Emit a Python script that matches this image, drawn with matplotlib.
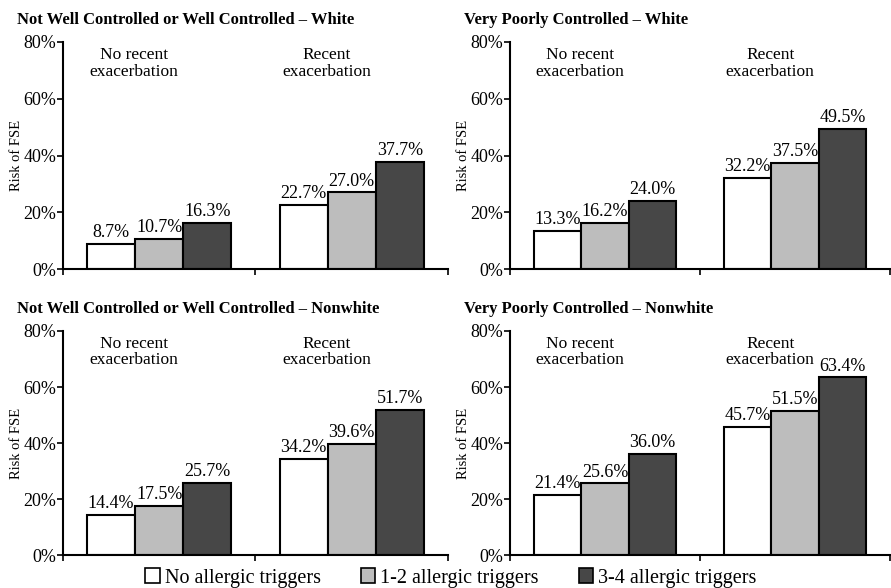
import matplotlib
matplotlib.use("Agg")
import matplotlib.pyplot as plt
from matplotlib.patches import Patch
import numpy as np

plt.rcParams['font.family'] = ['Liberation Serif', 'DejaVu Serif']

titles = ["Not Well Controlled or Well Controlled \u2013 White",
          "Very Poorly Controlled \u2013 White",
          "Not Well Controlled or Well Controlled \u2013 Nonwhite",
          "Very Poorly Controlled \u2013 Nonwhite"]
groups = ["No recent\nexacerbation", "Recent\nexacerbation"]
series = ["No allergic triggers", "1-2 allergic triggers", "3-4 allergic triggers"]
# values[panel][group][series]
values = [
    [[8.7, 10.7, 16.3], [22.7, 27.0, 37.7]],
    [[13.3, 16.2, 24.0], [32.2, 37.5, 49.5]],
    [[14.4, 17.5, 25.7], [34.2, 39.6, 51.7]],
    [[21.4, 25.6, 36.0], [45.7, 51.5, 63.4]],
]
yticks = [0, 20, 40, 60, 80]
colors = ["#ffffff", "#bdbdbd", "#474747"]

W, H = 891, 588
fig = plt.figure(figsize=(W/100, H/100), dpi=100)

def rect(x0, x1, ytop, ybot):
    return [x0/W, 1-ybot/H, (x1-x0)/W, (ybot-ytop)/H]

positions = [rect(63, 448, 42, 269), rect(510, 890, 42, 269),
             rect(63, 448, 331, 555), rect(510, 890, 331, 555)]
title_xy = [(17, 20), (464, 20), (17, 309), (464, 309)]

bw = 0.25
for p in range(4):
    ax = fig.add_axes(positions[p])
    for g in range(2):
        center = g + 0.5
        for s in range(3):
            x = center + (s - 1) * bw
            v = values[p][g][s]
            ax.bar(x, v, width=bw, color=colors[s], edgecolor="black", linewidth=1.5, zorder=2)
            ax.text(x, v + 1.0, f"{v:.1f}%", ha="center", va="bottom", fontsize=13)
        ax.text(center - 0.13, 72.5, groups[g], ha="center", va="center", fontsize=12.5,
                linespacing=1.05)
    ax.set_xlim(0, 2)
    ax.set_ylim(0, 80)
    ax.set_xticks([0, 1, 2])
    ax.set_xticklabels([])
    ax.set_yticks(yticks)
    ax.set_yticklabels([f"{t}%" for t in yticks], fontsize=13)
    ax.tick_params(axis='both', direction='out', length=4, width=1.2, color='black', pad=1)
    for sp in ["top", "right"]:
        ax.spines[sp].set_visible(False)
    for sp in ["left", "bottom"]:
        ax.spines[sp].set_linewidth(1.5)
    ax.set_ylabel("Risk of FSE", fontsize=10.5)
    ax.yaxis.set_label_coords(-0.105, 0.5)
    tx, ty = title_xy[p]
    fig.text(tx / W, 1 - ty / H, titles[p], fontsize=12,
             fontweight="bold", ha="left", va="center")

handles = [Patch(facecolor=c, edgecolor="black", linewidth=1.2) for c in colors]
fig.legend(handles, series, loc="center", bbox_to_anchor=(0.506, 1 - 578 / H), ncol=3,
           frameon=False, fontsize=14.5, handlelength=0.7, handleheight=0.7,
           handletextpad=0.25, columnspacing=2.0)

fig.savefig("out.png", dpi=100)
